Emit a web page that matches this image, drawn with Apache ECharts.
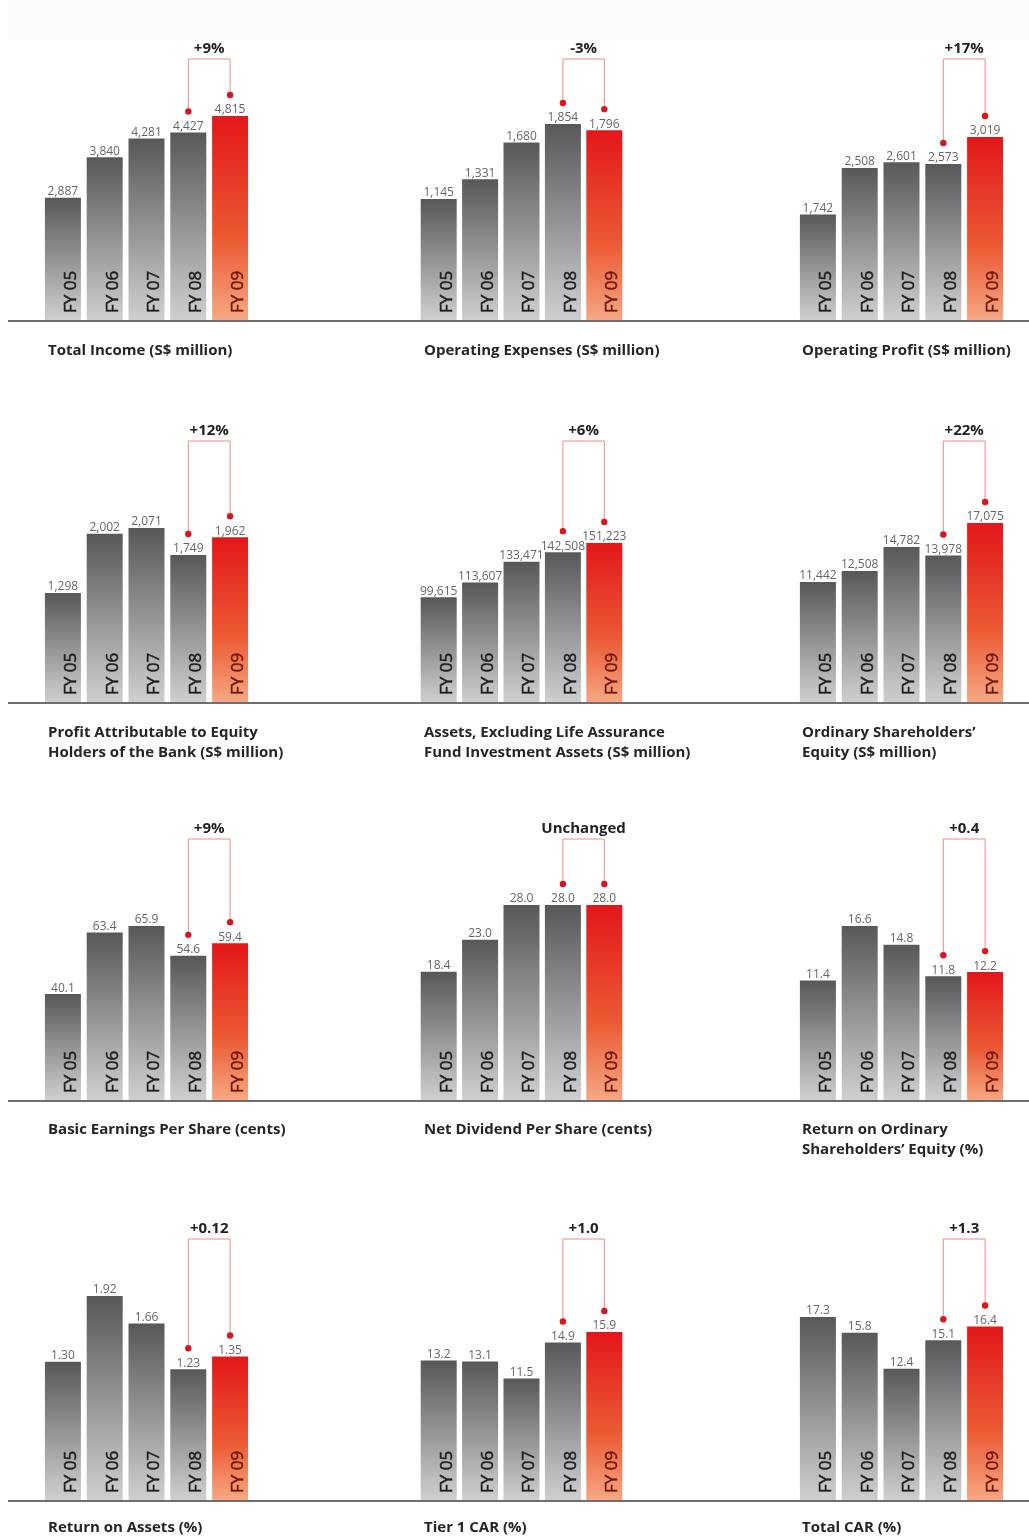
<!DOCTYPE html>
<html>
<head>
<meta charset="utf-8">
<script src="https://cdn.jsdelivr.net/npm/echarts@6/dist/echarts.min.js"></script>
<style>
html, body { margin: 0; padding: 0; background: #fff; }
#main { width: 1029px; height: 1538px; }
</style>
</head>
<body>
<div id="main"></div>
<script>
const years = ['FY 05', 'FY 06', 'FY 07', 'FY 08', 'FY 09'];

const totalIncome = [2887, 3840, 4281, 4427, 4815];
const operatingExpenses = [1145, 1331, 1680, 1854, 1796];
const operatingProfit = [1742, 2508, 2601, 2573, 3019];
const profitAttributable = [1298, 2002, 2071, 1749, 1962];
const assets = [99615, 113607, 133471, 142508, 151223];
const shareholdersEquity = [11442, 12508, 14782, 13978, 17075];
const basicEps = [40.1, 63.4, 65.9, 54.6, 59.4];
const netDividend = [18.4, 23.0, 28.0, 28.0, 28.0];
const returnOnEquity = [11.4, 16.6, 14.8, 11.8, 12.2];
const returnOnAssets = [1.30, 1.92, 1.66, 1.23, 1.35];
const tier1Car = [13.2, 13.1, 11.5, 14.9, 15.9];
const totalCar = [17.3, 15.8, 12.4, 15.1, 16.4];

const titles = [
  'Total Income (S$ million)',
  'Operating Expenses (S$ million)',
  'Operating Profit (S$ million)',
  'Profit Attributable to Equity\nHolders of the Bank (S$ million)',
  'Assets, Excluding Life Assurance\nFund Investment Assets (S$ million)',
  'Ordinary Shareholders\u2019\nEquity (S$ million)',
  'Basic Earnings Per Share (cents)',
  'Net Dividend Per Share (cents)',
  'Return on Ordinary\nShareholders\u2019 Equity (%)',
  'Return on Assets (%)',
  'Tier 1 CAR (%)',
  'Total CAR (%)'
];
const changeLabels = ['+9%', '-3%', '+17%', '+12%', '+6%', '+22%', '+9%', 'Unchanged', '+0.4', '+0.12', '+1.0', '+1.3'];
const decimals = [0, 0, 0, 0, 0, 0, 1, 1, 1, 2, 1, 1];
// top of each plot = top of the bracket
const axisMax = [6160, 2469, 4306, 3106, 248234, 24897, 98.85, 37.48, 24.9, 2.456, 24.7, 24.67];

const panels = [totalIncome, operatingExpenses, operatingProfit, profitAttributable, assets,
  shareholdersEquity, basicEps, netDividend, returnOnEquity, returnOnAssets, tier1Car, totalCar];

// layout
const colLeft = [42, 418, 797];
const colWidth = [209, 207, 209];
const titleLeft = [48, 424, 802];
const rowBase = [320, 702, 1100, 1500];
const titleTop = [341, 723, 1120, 1518];
const plotHeight = 261;
const font = '"Open Sans", "Noto Sans", sans-serif';

const grayFill = new echarts.graphic.LinearGradient(0, 0, 0, 1, [
  { offset: 0, color: '#58585b' },
  { offset: 1, color: '#cfcfd1' }
]);
const redFill = new echarts.graphic.LinearGradient(0, 0, 0, 1, [
  { offset: 0, color: '#e3171a' },
  { offset: 0.6, color: '#eb5a33' },
  { offset: 1, color: '#f6a783' }
]);

function fmt(v, d) {
  return v.toLocaleString('en-US', { minimumFractionDigits: d, maximumFractionDigits: d });
}

const grid = [], xAxis = [], yAxis = [], series = [], title = [];

panels.forEach((vals, i) => {
  const r = Math.floor(i / 3), c = i % 3;
  grid.push({ left: colLeft[c], width: colWidth[c], top: rowBase[r] - plotHeight, height: plotHeight });
  xAxis.push({ gridIndex: i, type: 'category', data: years, show: false });
  yAxis.push({ gridIndex: i, type: 'value', min: 0, max: axisMax[i], show: false });
  title.push({
    text: titles[i], left: titleLeft[c], top: titleTop[r], padding: 0,
    textStyle: { fontSize: 15, fontWeight: 'bold', color: '#262626', fontFamily: font, lineHeight: 20 }
  });

  // bars with the year written inside
  series.push({
    type: 'bar', xAxisIndex: i, yAxisIndex: i, barWidth: 36, barGap: '-100%', silent: true,
    data: vals.map((v, j) => ({
      value: v,
      itemStyle: { color: j === 4 ? redFill : grayFill },
      label: j === 4 ? { color: '#6e1a0a', textBorderColor: '#6e1a0a' } : { color: '#1e1e1e', textBorderColor: '#1e1e1e' }
    })),
    label: {
      show: true, position: 'insideBottom', rotate: 90, align: 'left', verticalAlign: 'middle',
      distance: 7, offset: [0, 8], formatter: '{b}', fontSize: 17, fontFamily: font,
      textBorderWidth: 0.5
    }
  });
  // value labels on top
  series.push({
    type: 'bar', xAxisIndex: i, yAxisIndex: i, barWidth: 36, barGap: '-100%', silent: true,
    data: vals, itemStyle: { color: 'rgba(0,0,0,0)' },
    label: {
      show: true, position: 'top', distance: 0, color: '#666', fontSize: 12, fontFamily: font,
      formatter: p => fmt(p.value, decimals[i])
    }
  });
  // FY08 -> FY09 bracket
  series.push({
    type: 'custom', xAxisIndex: i, yAxisIndex: i, silent: true,
    encode: { x: 0, y: [1, 2] },
    data: [[3, vals[3], vals[4]]],
    renderItem: (params, api) => {
      const a = api.coord([3, api.value(1)]);
      const b = api.coord([4, api.value(2)]);
      const top = params.coordSys.y;
      const ya = a[1] - 21, yb = b[1] - 21;
      return {
        type: 'group',
        children: [
          { type: 'polyline', shape: { points: [[a[0], ya], [a[0], top], [b[0], top], [b[0], yb]] },
            style: { stroke: '#ec8a8a', lineWidth: 1, fill: null } },
          { type: 'circle', shape: { cx: a[0], cy: ya, r: 3.2 }, style: { fill: '#d9161e' } },
          { type: 'circle', shape: { cx: b[0], cy: yb, r: 3.2 }, style: { fill: '#d9161e' } },
          { type: 'text', style: { text: changeLabels[i], x: (a[0] + b[0]) / 2, y: top - 10,
            align: 'center', verticalAlign: 'middle', fill: '#222', font: 'bold 15px ' + font } }
        ]
      };
    }
  });
});

const graphic = [
  { type: 'rect', z: -10, shape: { x: 8, y: 0, width: 1021, height: 40 }, style: { fill: '#fdfafa' } }
].concat(rowBase.map(y => ({
  type: 'rect', shape: { x: 8, y: y, width: 1021, height: 2 }, style: { fill: '#6f6f6f' }
})));

const chart = echarts.init(document.getElementById('main'));
chart.setOption({
  backgroundColor: '#fff',
  animation: false,
  title: title,
  grid: grid,
  xAxis: xAxis,
  yAxis: yAxis,
  series: series,
  graphic: graphic
});
</script>
</body>
</html>
